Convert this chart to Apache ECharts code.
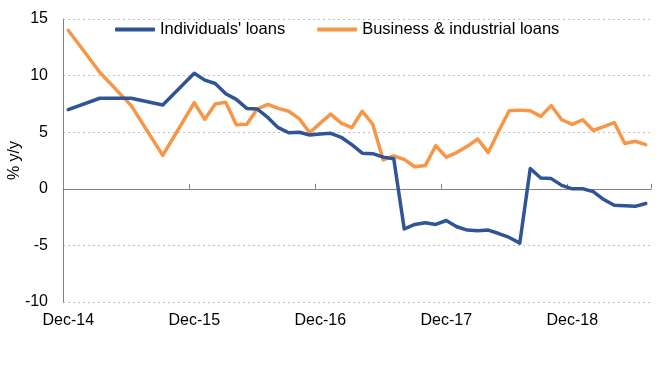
<!DOCTYPE html>
<html>
<head>
<meta charset="utf-8">
<script src="https://cdn.jsdelivr.net/npm/echarts@6/dist/echarts.min.js"></script>
<style>
html,body{margin:0;padding:0;background:#fff;}
#chart{width:672px;height:374px;}
</style>
</head>
<body>
<div id="chart"></div>
<script>
const categories = [
  "Dec-14","Jan-15","Feb-15","Mar-15","Apr-15","May-15","Jun-15","Jul-15","Aug-15","Sep-15","Oct-15","Nov-15",
  "Dec-15","Jan-16","Feb-16","Mar-16","Apr-16","May-16","Jun-16","Jul-16","Aug-16","Sep-16","Oct-16","Nov-16",
  "Dec-16","Jan-17","Feb-17","Mar-17","Apr-17","May-17","Jun-17","Jul-17","Aug-17","Sep-17","Oct-17","Nov-17",
  "Dec-17","Jan-18","Feb-18","Mar-18","Apr-18","May-18","Jun-18","Jul-18","Aug-18","Sep-18","Oct-18","Nov-18",
  "Dec-18","Jan-19","Feb-19","Mar-19","Apr-19","May-19","Jun-19","Jul-19"
];
const individualsLoans = [
  7.0, null, null, 8.0, null, null, 8.0, null, null, 7.4, null, null,
  10.2, 9.6, 9.3, 8.4, 7.9, 7.1, 7.05, 6.3, 5.4, 4.95, 5.0, 4.75,
  4.85, 4.9, 4.55, 3.9, 3.15, 3.1, 2.8, 2.65, -3.55, -3.15, -3.0, -3.15,
  -2.8, -3.35, -3.65, -3.7, -3.65, -3.95, -4.3, -4.8, 1.8, 0.95, 0.9, 0.3,
  0.0, 0.0, -0.25, -0.95, -1.45, -1.5, -1.55, -1.3
];
const businessLoans = [
  14.0, null, null, 10.3, null, null, 7.35, null, null, 2.95, null, null,
  7.6, 6.15, 7.5, 7.65, 5.65, 5.7, 7.05, 7.45, 7.1, 6.85, 6.2, 4.95,
  5.8, 6.6, 5.8, 5.4, 6.85, 5.7, 2.55, 2.9, 2.6, 1.95, 2.05, 3.8,
  2.8, 3.2, 3.75, 4.4, 3.2, 5.1, 6.9, 6.95, 6.9, 6.4, 7.35, 6.1,
  5.7, 6.1, 5.15, 5.5, 5.85, 4.0, 4.2, 3.9
];
const seriesNames = ["Individuals' loans", "Business & industrial loans"];
const yTicks = { min: -10, max: 15, interval: 5 };

const FONT = "'Liberation Sans', Arial, sans-serif";
const chart = echarts.init(document.getElementById('chart'), null, { renderer: 'canvas' });
chart.setOption({
  animation: false,
  backgroundColor: '#ffffff',
  textStyle: { fontFamily: FONT },
  grid: { left: 63, right: 21, top: 19, bottom: 72, containLabel: false, outerBoundsMode: 'none' },
  legend: {
    left: 110, top: 16,
    itemWidth: 40, itemHeight: 4, itemGap: 32,
    icon: 'roundRect',
    textStyle: { fontSize: 16.5, color: '#000', fontFamily: FONT },
    data: seriesNames
  },
  xAxis: [
    {
      type: 'category', data: categories, boundaryGap: true, position: 'bottom',
      axisLine: { show: false, onZero: false },
      axisTick: { show: false },
      axisLabel: { interval: 11, fontSize: 16, color: '#000', margin: 11, fontFamily: FONT },
      splitLine: { show: false }
    },
    {
      type: 'category', data: categories, boundaryGap: true, position: 'bottom',
      axisLine: { show: true, onZero: true, lineStyle: { color: '#808080', width: 1 } },
      axisTick: { show: true, inside: true, interval: 11, length: 5, lineStyle: { color: '#808080' } },
      axisLabel: { show: false },
      splitLine: { show: false }
    }
  ],
  yAxis: {
    type: 'value', min: yTicks.min, max: yTicks.max, interval: yTicks.interval,
    name: '% y/y', nameLocation: 'middle', nameRotate: 90, nameGap: 40, nameMoveOverlap: false,
    nameTextStyle: { fontSize: 16, color: '#000', fontFamily: FONT },
    axisLine: { show: true, lineStyle: { color: '#808080', width: 1 } },
    axisTick: { show: false },
    axisLabel: { fontSize: 16, color: '#000', margin: 15, fontFamily: FONT },
    splitLine: { show: true, lineStyle: { type: [2, 3], color: '#BFBFBF', width: 1 } }
  },
  series: [
    {
      name: seriesNames[0], type: 'line', xAxisIndex: 0, data: individualsLoans,
      connectNulls: true, showSymbol: false, symbol: 'none', z: 3,
      itemStyle: { color: '#2F5597' },
      lineStyle: { color: '#2F5597', width: 3.5, cap: 'round', join: 'round' }
    },
    {
      name: seriesNames[1], type: 'line', xAxisIndex: 0, data: businessLoans,
      connectNulls: true, showSymbol: false, symbol: 'none', z: 2,
      itemStyle: { color: '#F79646' },
      lineStyle: { color: '#F79646', width: 3.5, cap: 'round', join: 'round' }
    }
  ]
});
</script>
</body>
</html>
